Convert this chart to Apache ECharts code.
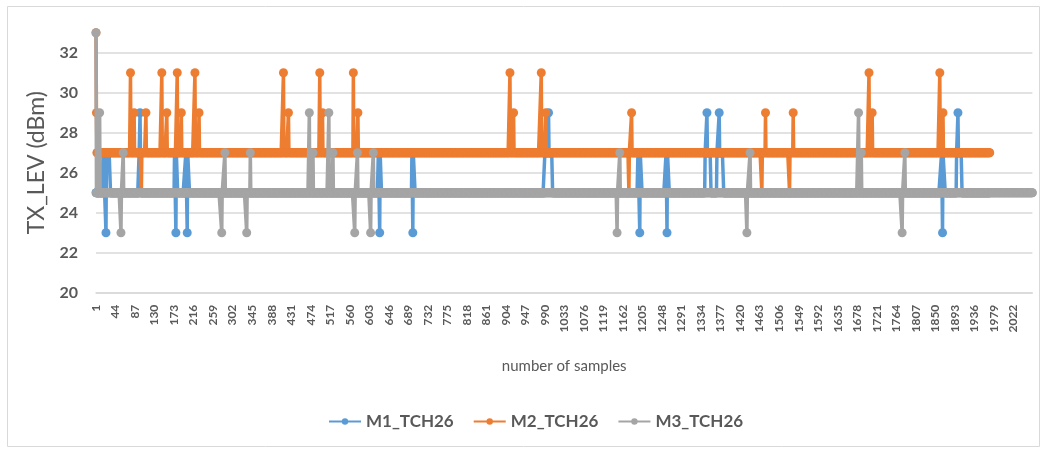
<!DOCTYPE html>
<html>
<head>
<meta charset="utf-8">
<script src="https://cdn.jsdelivr.net/npm/echarts@6/dist/echarts.min.js"></script>
<style>
html,body{margin:0;padding:0;background:#fff;}
#chart{width:1045px;height:453px;}
</style>
</head>
<body>
<div id="chart"></div>
<script>
// ---- data ----
const sampleCount = 2064;               // samples 1..2064 on the category axis
const seriesNames = ['M1_TCH26', 'M2_TCH26', 'M3_TCH26'];

// M1: level 25 dBm except for the listed runs [fromSample, toSample, value]
const m1Length = 1970;
const m1Base = 25;
const m1Runs = [
  [17, 22, 27], [23, 23, 23], [24, 32, 27],
  [96, 97, 27], [98, 98, 29], [99, 100, 27],
  [174, 176, 27], [177, 177, 23], [178, 180, 27],
  [199, 201, 27], [202, 202, 23], [203, 206, 27],
  [623, 625, 27], [626, 626, 23], [627, 629, 27],
  [697, 698, 27], [699, 699, 23], [700, 703, 27],
  [990, 997, 27], [998, 998, 29], [999, 1006, 27],
  [1195, 1198, 27], [1199, 1199, 23], [1200, 1203, 27],
  [1257, 1258, 27], [1259, 1259, 23], [1260, 1263, 27],
  [1343, 1346, 27], [1347, 1347, 29], [1348, 1355, 27],
  [1369, 1373, 27], [1374, 1374, 29], [1375, 1383, 27],
  [1864, 1865, 27], [1866, 1866, 23], [1867, 1871, 27],
  [1897, 1899, 27], [1900, 1900, 29], [1901, 1908, 27]
];

// M2: level 27 dBm except for the listed runs
const m2Length = 1970;
const m2Base = 27;
const m2Runs = [
  [1, 1, 33], [2, 2, 29],
  [77, 77, 31], [85, 85, 29],
  [101, 101, 25], [111, 111, 29],
  [146, 146, 31], [157, 157, 29],
  [180, 180, 31], [189, 189, 29],
  [219, 219, 31], [228, 228, 29],
  [414, 414, 31], [425, 425, 29],
  [494, 494, 31], [500, 500, 29],
  [568, 568, 31], [578, 578, 29],
  [913, 913, 31], [921, 921, 29],
  [982, 982, 31], [992, 992, 29],
  [1175, 1175, 25], [1181, 1181, 29],
  [1468, 1468, 25], [1476, 1476, 29],
  [1529, 1529, 25], [1537, 1537, 29],
  [1704, 1704, 31], [1711, 1711, 29],
  [1860, 1860, 31], [1867, 1867, 29]
];

// M3: level 25 dBm except for the listed runs
const m3Length = 2064;
const m3Base = 25;
const m3Runs = [
  [1, 1, 33], [9, 9, 29],
  [56, 56, 23], [61, 61, 27],
  [278, 278, 23], [285, 285, 27],
  [333, 333, 23], [341, 341, 27],
  [471, 471, 29], [479, 479, 27],
  [514, 514, 29], [523, 523, 27],
  [571, 571, 23], [577, 577, 27],
  [606, 606, 23], [612, 612, 27],
  [1149, 1149, 23], [1155, 1155, 27],
  [1435, 1435, 23], [1442, 1442, 27],
  [1681, 1681, 29], [1687, 1687, 27],
  [1777, 1777, 23], [1783, 1783, 27]
];

const yMin = 20, yMax = 33, yStep = 2;

// ---- build ----
function buildSeries(len, base, runs) {
  const arr = new Array(len).fill(base);
  runs.forEach(function (r) {
    for (let s = r[0]; s <= r[1]; s++) arr[s - 1] = r[2];
  });
  return arr;
}
const categories = [];
for (let i = 1; i <= sampleCount; i++) categories.push(String(i));
const m1 = buildSeries(m1Length, m1Base, m1Runs);
const m2 = buildSeries(m2Length, m2Base, m2Runs);
const m3 = buildSeries(m3Length, m3Base, m3Runs);

const colors = ['#5B9BD5', '#ED7D31', '#A5A5A5'];
const txt = '#595959';
const font = 'Lato, "Open Sans", sans-serif';

function mk(name, data, color, z) {
  return {
    name: name, type: 'line', data: data, z: z,
    symbol: 'circle', symbolSize: 9, showAllSymbol: true,
    lineStyle: { width: 3.5, color: color },
    itemStyle: { color: color },
    emphasis: { disabled: true }, silent: true
  };
}

const chart = echarts.init(document.getElementById('chart'), null, { renderer: 'canvas' });
chart.setOption({
  animation: false,
  textStyle: { fontFamily: font },
  color: colors,
  grid: { left: 96, top: 32.7, width: 936.4, height: 260, containLabel: false },
  graphic: [{
    type: 'rect', silent: true, z: -1,
    shape: { x: 7.5, y: 6.5, width: 1032, height: 440 },
    style: { fill: 'none', stroke: '#d9d9d9', lineWidth: 1 }
  }],
  legend: {
    left: 328, top: 413, padding: 0, itemWidth: 32, itemHeight: 8, itemGap: 19,
    textStyle: { color: txt, fontSize: 17, fontWeight: 'bold', fontFamily: font },
    data: seriesNames
  },
  xAxis: {
    type: 'category', data: categories, boundaryGap: false,
    name: 'number of samples', nameLocation: 'middle', nameGap: 66,
    nameTextStyle: { color: txt, fontSize: 15, fontFamily: font },
    axisLine: { lineStyle: { color: '#d9d9d9', width: 1.5 } },
    axisTick: { show: false },
    axisLabel: { interval: 42, rotate: 90, margin: 12, color: txt, fontSize: 12, fontWeight: 'bold', fontFamily: font },
    splitLine: { show: false }
  },
  yAxis: {
    type: 'value', min: yMin, max: yMax, interval: yStep,
    name: 'TX_LEV (dBm)', nameLocation: 'middle', nameGap: 46,
    nameTextStyle: { color: txt, fontSize: 23, fontFamily: font },
    axisLine: { show: false }, axisTick: { show: false },
    axisLabel: { margin: 18, color: txt, fontSize: 16, fontWeight: 'bold', showMaxLabel: false, fontFamily: font },
    splitLine: { showMaxLine: false, lineStyle: { color: '#d9d9d9', width: 1.5 } }
  },
  series: [
    mk(seriesNames[0], m1, colors[0], 2),
    mk(seriesNames[1], m2, colors[1], 3),
    mk(seriesNames[2], m3, colors[2], 4)
  ]
});
</script>
</body>
</html>
